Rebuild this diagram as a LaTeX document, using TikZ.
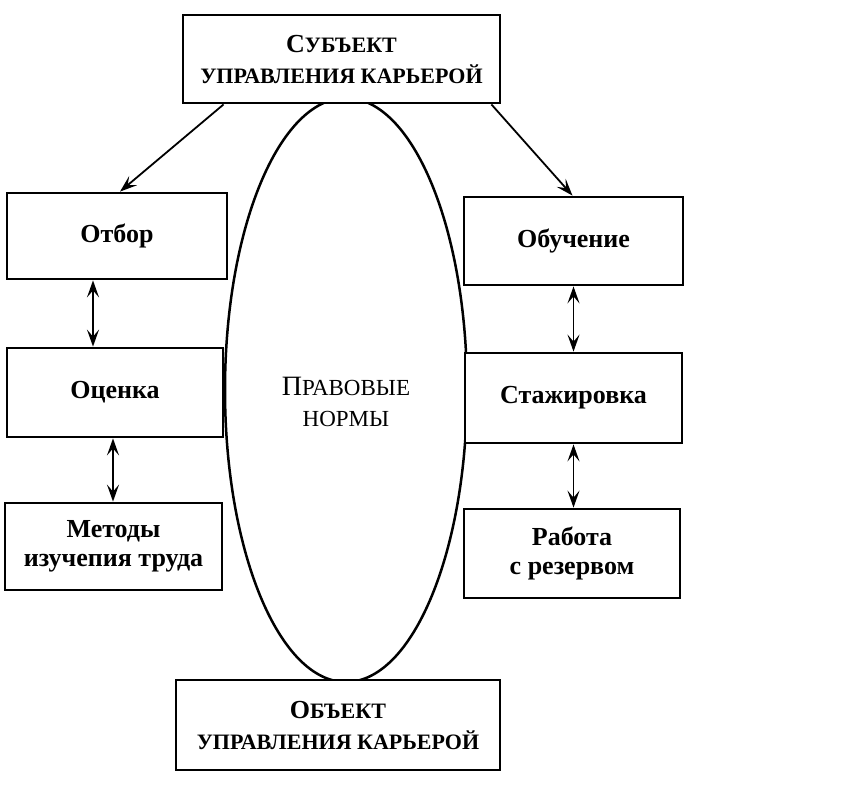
\documentclass[tikz,border=0pt]{standalone}
\usepackage{fontspec}
\setmainfont{Liberation Serif}
\usetikzlibrary{arrows.meta,shapes.geometric}
\newcommand{\capsc}[2]{{\fontsize{26}{31}\selectfont #1}{\fontsize{22}{31}\selectfont #2}}
\tikzset{
  box/.style={draw, line width=2.8pt, fill=white, inner sep=0pt, align=center,
    font=\bfseries\fontsize{26}{29}\selectfont},
  head/.style={box, font=\bfseries\fontsize{22}{31}\selectfont},
  arr/.style={line width=1.8pt, -{Stealth[length=17pt,width=12pt,inset=7pt]}},
  dbl/.style={line width=1.8pt, {Stealth[length=17pt,width=12pt,inset=7pt]}-{Stealth[length=17pt,width=12pt,inset=7pt]}}
}
\begin{document}
\begin{tikzpicture}[x=1pt,y=1pt]
\useasboundingbox (0,0) rectangle (848,-804);
% oval in the middle
\node[draw, ellipse, line width=2.5pt, minimum width=242pt, minimum height=584pt] (norms) at (346,-390) {};
\node[align=center, font=\fontsize{23}{31}\selectfont] (normstxt) at (346,-402)
  {{\fontsize{28}{31}\selectfont П}РАВОВЫЕ\\НОРМЫ};
% subject and object
\node[head, minimum width=317pt, minimum height=88pt] (subj) at (341.5,-59)
  {\capsc{С}{УБЪЕКТ}\\УПРАВЛЕНИЯ КАРЬЕРОЙ};
\node[head, minimum width=324pt, minimum height=90pt] (obj) at (338,-725)
  {\capsc{О}{БЪЕКТ}\\УПРАВЛЕНИЯ КАРЬЕРОЙ};
% left column
\node[box, minimum width=220pt, minimum height=86pt] (otbor) at (117,-236) {Отбор};
\node[box, minimum width=216pt, minimum height=89pt] (otsenka) at (115,-392.5) {Оценка};
\node[box, minimum width=217pt, minimum height=87pt] (metody) at (113.5,-546.5) {Методы\\изучепия труда};
% right column
\node[box, minimum width=219pt, minimum height=88pt] (obuch) at (573.5,-241) {Обучение};
\node[box, minimum width=217pt, minimum height=90pt] (stazh) at (573.5,-398) {Стажировка};
\node[box, minimum width=216pt, minimum height=89pt] (rabota) at (572,-553.5) {Работа\\с резервом};
% arrows
\draw[arr] ([xshift=42pt]subj.south west) -- ([xshift=3pt]otbor.north);
\draw[arr] ([xshift=-10pt]subj.south east) -- ([xshift=-1pt]obuch.north);
\draw[dbl] ([xshift=-24pt]otbor.south) -- ([xshift=-22pt]otsenka.north);
\draw[dbl] ([xshift=-2pt]otsenka.south) -- ([xshift=-0.5pt]metody.north);
\draw[dbl] (obuch.south) -- (stazh.north);
\draw[dbl] (stazh.south) -- ([xshift=1.5pt]rabota.north);
\end{tikzpicture}
\end{document}
